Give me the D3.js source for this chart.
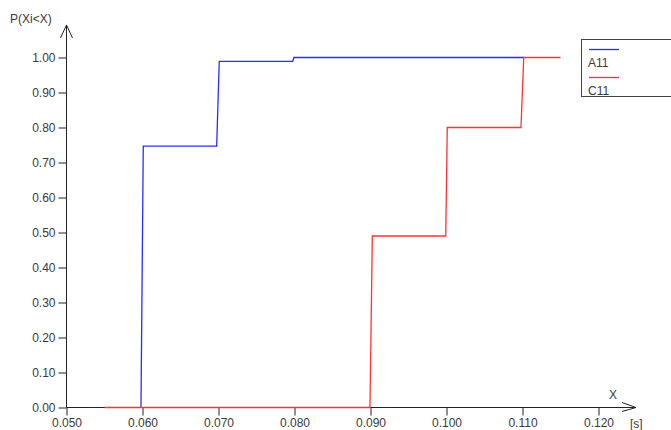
<!DOCTYPE html>
<html>
<head>
<meta charset="utf-8">
<script src="https://cdn.jsdelivr.net/npm/d3@7"></script>
<style>
  html, body { margin: 0; padding: 0; background: #fff; }
  svg { display: block; }
  text { font-family: Arial, "Liberation Sans", sans-serif; font-size: 12px; fill: #3a3a3a; }
</style>
</head>
<body>
<svg id="chart" width="671" height="430"></svg>
<script>
// Empirical distribution functions P(Xi<X) of two measured durations [s]
const seriesNames = ["A11", "C11"];
const seriesColors = ["#2b2bff", "#ff3333"];

const a11X = [0.0598, 0.0601, 0.06976, 0.0701, 0.07976, 0.07993, 0.1102];
const a11P = [0.000, 0.747, 0.747, 0.989, 0.989, 1.000, 1.000];

const c11X = [0.055, 0.08993, 0.09024, 0.0999, 0.1001, 0.1098, 0.11016, 0.115];
const c11P = [0.000, 0.000, 0.490, 0.490, 0.800, 0.800, 1.000, 1.000];

const xTicks = [0.050, 0.060, 0.070, 0.080, 0.090, 0.100, 0.110, 0.120];
const yTicks = [0.0, 0.1, 0.2, 0.3, 0.4, 0.5, 0.6, 0.7, 0.8, 0.9, 1.0];

const svg = d3.select("#chart");

const x = d3.scaleLinear().domain([0.05, 0.12]).range([66.5, 598.5]);
const y = d3.scaleLinear().domain([0, 1]).range([407.5, 57.5]);

const line = d3.line().x(d => x(d[0])).y(d => y(d[1]));
const series = [
  d3.zip(a11X, a11P),
  d3.zip(c11X, c11P)
];

// axes
const yAxis = d3.axisLeft(y).tickValues(yTicks).tickFormat(d3.format(".2f")).tickSizeOuter(0).tickSize(8).tickPadding(3);
const xAxis = d3.axisBottom(x).tickValues(xTicks).tickFormat(d3.format(".3f")).tickSizeOuter(0).tickSize(8).tickPadding(3);

const gy = svg.append("g").attr("transform", `translate(${x.range()[0]},0)`).call(yAxis);
const gx = svg.append("g").attr("transform", `translate(0,${y.range()[0]})`).call(xAxis);
[gx, gy].forEach(g => {
  g.select(".domain").remove();
  g.selectAll(".tick line").attr("stroke", "#222");
  g.selectAll(".tick text").attr("fill", "#3a3a3a")
    .style("font-family", "Arial, 'Liberation Sans', sans-serif").style("font-size", "12px");
});

// axis lines with arrow heads
const ax = svg.append("g").attr("stroke", "#222").attr("fill", "none").attr("stroke-width", 1);
ax.append("line").attr("x1", x.range()[0]).attr("x2", x.range()[0]).attr("y1", y.range()[0]).attr("y2", 25);
ax.append("path").attr("d", `M${x.range()[0] - 6},38L${x.range()[0]},25L${x.range()[0] + 6},38`);
ax.append("line").attr("x1", x.range()[0]).attr("x2", 636).attr("y1", y.range()[0]).attr("y2", y.range()[0]);
ax.append("path").attr("d", `M622,${y.range()[0] - 5}L636,${y.range()[0]}L622,${y.range()[0] + 4}`);

svg.append("text").attr("x", 10).attr("y", 23).text("P(Xi<X)");
svg.append("text").attr("x", 609).attr("y", 399).text("X");
svg.append("text").attr("x", 630).attr("y", 428).text("[s]");

// step curves
series.forEach((pts, i) => {
  svg.append("path")
    .attr("d", line(pts))
    .attr("fill", "none")
    .attr("stroke", seriesColors[i])
    .attr("stroke-width", 1.3);
});

// legend
const lg = svg.append("g");
lg.append("rect").attr("x", 581.5).attr("y", 39.5).attr("width", 120).attr("height", 57)
  .attr("fill", "#fff").attr("stroke", "#444").attr("stroke-width", 1);
seriesNames.forEach((name, i) => {
  const yy = 49.5 + i * 28;
  lg.append("line").attr("x1", 589).attr("x2", 619).attr("y1", yy).attr("y2", yy)
    .attr("stroke", seriesColors[i]).attr("stroke-width", 1.3);
  lg.append("text").attr("x", 588).attr("y", yy + 17).text(name);
});
</script>
</body>
</html>
